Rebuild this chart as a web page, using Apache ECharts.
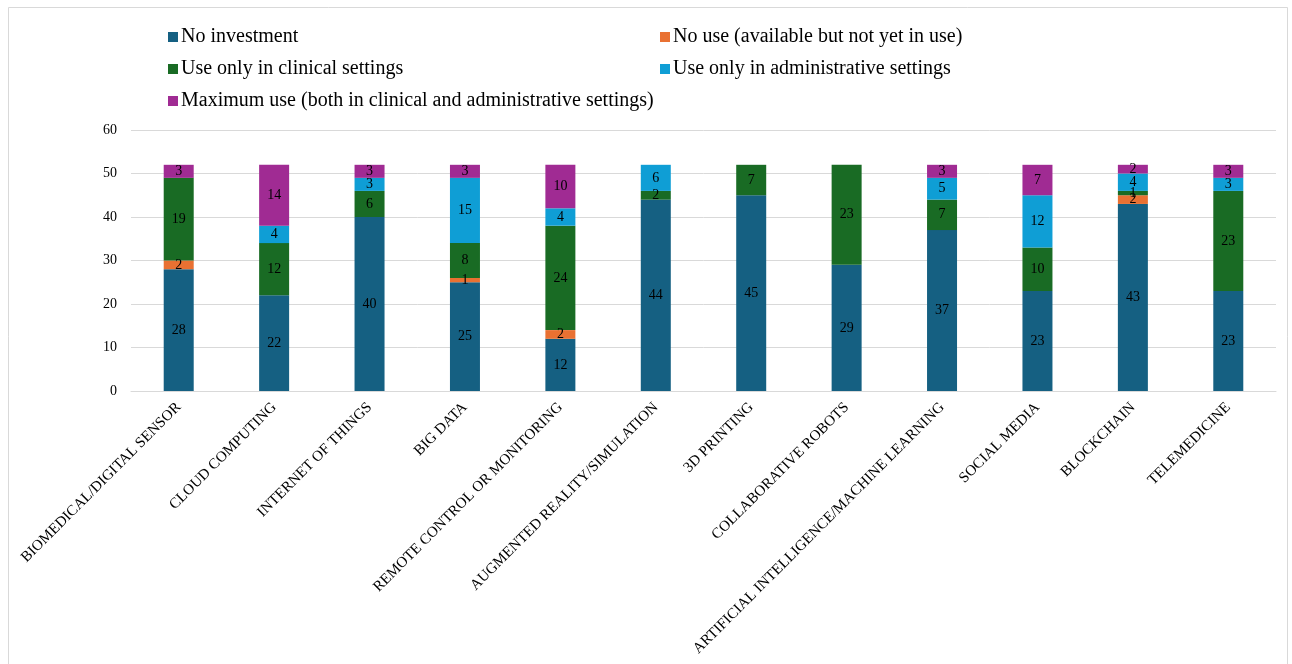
<!DOCTYPE html>
<html>
<head>
<meta charset="utf-8">
<script src="https://cdn.jsdelivr.net/npm/echarts@6/dist/echarts.min.js"></script>
<style>
html,body{margin:0;padding:0;background:#fff;}
#c{width:1292px;height:664px;}
</style>
</head>
<body>
<div id="c"></div>
<script>
const categories = ["BIOMEDICAL/DIGITAL SENSOR","CLOUD COMPUTING","INTERNET OF THINGS","BIG DATA","REMOTE CONTROL OR MONITORING","AUGMENTED REALITY/SIMULATION","3D PRINTING","COLLABORATIVE ROBOTS","ARTIFICIAL INTELLIGENCE/MACHINE LEARNING","SOCIAL MEDIA","BLOCKCHAIN","TELEMEDICINE"];
const seriesNames = ["No investment","No use (available but not yet in use)","Use only in clinical settings","Use only in administrative settings","Maximum use (both in clinical and administrative settings)"];
const noInvestment   = [28,22,40,25,12,44,45,29,37,23,43,23];
const noUse          = [2,0,0,1,2,0,0,0,0,0,2,0];
const clinicalOnly   = [19,12,6,8,24,2,7,23,7,10,1,23];
const adminOnly      = [0,4,3,15,4,6,0,0,5,12,4,3];
const maximumUse     = [3,14,3,3,10,0,0,0,3,7,2,3];
const yTicks = [0,10,20,30,40,50,60];

const colors = ["#156082","#E97132","#196B24","#0F9ED5","#A02B93"];
const allData = [noInvestment,noUse,clinicalOnly,adminOnly,maximumUse];
const font = "'Liberation Serif','Times New Roman',serif";

const legendPos = [
  {left:163, top:22},
  {left:655, top:22},
  {left:163, top:54},
  {left:655, top:54},
  {left:163, top:86}
];

const chart = echarts.init(document.getElementById('c'));
chart.setOption({
  animation:false,
  backgroundColor:'#fff',
  color:colors,
  graphic:[{type:'rect',shape:{x:8.5,y:7.5,width:1279,height:680},style:{fill:'none',stroke:'#d9d9d9',lineWidth:1},silent:true}],
  legend: seriesNames.map((n,i)=>({
    data:[n], left:legendPos[i].left, top:legendPos[i].top,
    itemWidth:10, itemHeight:10, itemGap:4, icon:'rect',
    textStyle:{fontFamily:font,fontSize:20,color:'#000',padding:[0,0,0,-2]},
    selectedMode:false
  })),
  grid:{left:131,right:16,top:130,bottom:273,containLabel:false},
  xAxis:{
    type:'category', data:categories,
    axisLine:{show:true,lineStyle:{color:'#d9d9d9',width:1}},
    axisTick:{show:false},
    axisLabel:{rotate:45,interval:0,fontFamily:font,fontSize:15,color:'#000',margin:14}
  },
  yAxis:{
    type:'value', min:yTicks[0], max:yTicks[yTicks.length-1], interval:10,
    axisLine:{show:false}, axisTick:{show:false},
    splitLine:{lineStyle:{color:'#d9d9d9',width:1}},
    axisLabel:{fontFamily:font,fontSize:14,color:'#000',margin:14}
  },
  series: seriesNames.map((n,i)=>({
    name:n, type:'bar', stack:'total', barWidth:30,
    data:allData[i],
    itemStyle:{color:colors[i]},
    label:{show:true,position:'inside',fontFamily:font,fontSize:14,color:'#000',
      formatter:p=>p.value>0?String(p.value):''}
  }))
});
</script>
</body>
</html>
